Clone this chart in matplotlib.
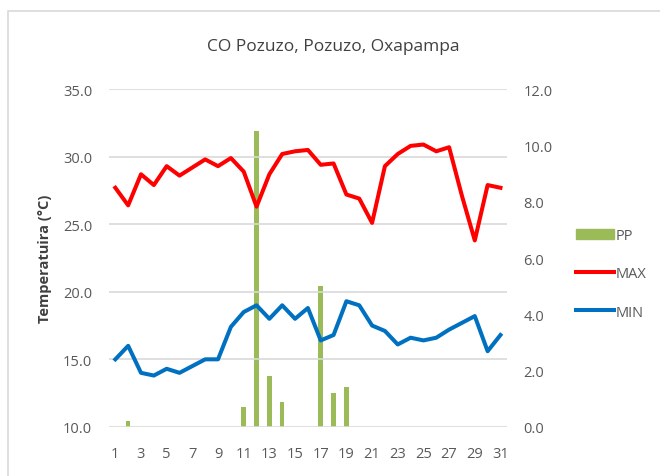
import matplotlib
matplotlib.use("Agg")
import matplotlib.pyplot as plt
from matplotlib.patches import Rectangle
from matplotlib.lines import Line2D

plt.rcParams['font.family'] = ['Open Sans', 'DejaVu Sans']

days = list(range(1, 32))
tmax = [27.7, 26.4, 28.7, 27.9, 29.3, 28.6, 29.2, 29.8, 29.3, 29.9,
        28.9, 26.3, 28.7, 30.2, 30.4, 30.5, 29.4, 29.5, 27.2, 26.9,
        25.1, 29.3, 30.2, 30.8, 30.9, 30.4, 30.7, 27.1, 23.8, 27.9, 27.7]
tmin = [15.0, 16.0, 14.0, 13.8, 14.3, 14.0, 14.5, 15.0, 15.0, 17.4,
        18.5, 19.0, 18.0, 19.0, 18.0, 18.8, 16.4, 16.8, 19.3, 19.0,
        17.5, 17.1, 16.1, 16.6, 16.4, 16.6, 17.2, 17.7, 18.2, 15.6, 16.8]
pp = [0, 0.2, 0, 0, 0, 0, 0, 0, 0, 0,
      0.7, 10.5, 1.8, 0.9, 0, 0, 5.0, 1.2, 1.4, 0,
      0, 0, 0, 0, 0, 0, 0, 0, 0, 0, 0]
left_ticks = [10, 15, 20, 25, 30, 35]
right_ticks = [0, 2, 4, 6, 8, 10, 12]
x_labels = list(range(1, 32, 2))

c_max = "#FF0000"
c_min = "#0070C0"
c_pp = "#9BBB59"
c_txt = "#595959"
c_grid = "#D9D9D9"

fig = plt.figure(figsize=(6.6, 4.77), dpi=100)
ax = fig.add_axes([0.165, 0.103, 0.603, 0.708])
ax2 = ax.twinx()

# bars on secondary axis, behind the lines
ax2.bar(days, pp, width=0.35, color=c_pp, zorder=2)
ax2.set_ylim(0, 12)
ax2.set_yticks(right_ticks)
ax2.set_yticklabels([f"{v:.1f}" for v in right_ticks])

ax.plot(days, tmax, color=c_max, lw=2.9, solid_joinstyle="round", zorder=3)
ax.plot(days, tmin, color=c_min, lw=2.9, solid_joinstyle="round", zorder=3)
ax.set_ylim(10, 35)
ax.set_yticks(left_ticks)
ax.set_yticklabels([f"{v:.1f}" for v in left_ticks])
ax.set_xlim(0.5, 31.5)
ax.set_xticks(x_labels)
ax.grid(axis="y", color=c_grid, lw=1.2, zorder=0)
ax.set_axisbelow(True)

ax.set_zorder(ax2.get_zorder() + 1)
ax.patch.set_visible(False)

for a in (ax, ax2):
    for s in a.spines.values():
        s.set_visible(False)
ax.tick_params(axis="y", length=0, pad=12, labelsize=10.5, labelcolor=c_txt)
ax.tick_params(axis="x", length=0, pad=14, labelsize=10.5, labelcolor=c_txt)
ax2.tick_params(axis="y", length=0, pad=12, labelsize=10.5, labelcolor=c_txt)

ax.set_ylabel("Temperatuira (°C)", fontsize=10.5, fontweight="bold", color="#404040", labelpad=8)
fig.text(0.505, 0.902, "CO Pozuzo, Pozuzo, Oxapampa", ha="center", va="center",
         fontsize=12.5, color="#404040")

handles = [Rectangle((0, 0), 1, 1, color=c_pp),
           Line2D([], [], color=c_max, lw=2.9),
           Line2D([], [], color=c_min, lw=2.9)]
fig.legend(handles, ["PP", "MAX", "MIN"], loc="center left",
           bbox_to_anchor=(0.853, 0.424), frameon=False, fontsize=10.5,
           labelcolor=c_txt, handlelength=2.6, handletextpad=0.1,
           labelspacing=1.6)

# light frame of the chart area
fig.add_artist(Rectangle((8 / 660, -0.1), 1.2, (477 - 12) / 477 + 0.1,
                         transform=fig.transFigure, fill=False,
                         edgecolor=c_grid, lw=1.2))

fig.savefig("out.png", dpi=100)
